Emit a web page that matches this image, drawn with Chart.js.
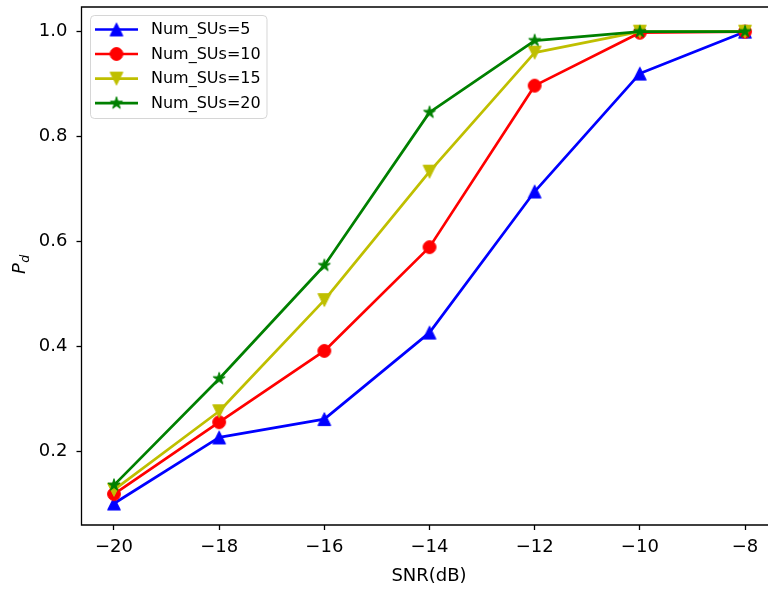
<!DOCTYPE html>
<html>
<head>
<meta charset="utf-8">
<script src="https://cdn.jsdelivr.net/npm/chart.js@4.4.1/dist/chart.umd.min.js"></script>
<style>
html,body{margin:0;padding:0;background:#fff;overflow:hidden;width:768px;height:590px}
#c{width:768px;height:590px;display:block}
</style>
</head>
<body>
<canvas id="c" width="768" height="590"></canvas>
<script>
// ---- data ----
const snr = [-20, -18, -16, -14, -12, -10, -8];
const pdSU5  = [0.100, 0.226, 0.261, 0.426, 0.695, 0.920, 1.000];
const pdSU10 = [0.118, 0.255, 0.391, 0.589, 0.897, 0.998, 1.000];
const pdSU15 = [0.126, 0.276, 0.488, 0.733, 0.960, 1.000, 1.000];
const pdSU20 = [0.135, 0.338, 0.554, 0.846, 0.983, 1.000, 1.000];
const seriesLabels = ['Num_SUs=5', 'Num_SUs=10', 'Num_SUs=15', 'Num_SUs=20'];
const xTicks = [-20, -18, -16, -14, -12, -10, -8];
const yTicks = [0.2, 0.4, 0.6, 0.8, 1.0];
const xLabel = 'SNR(dB)';

// ---- styling ----
const FONT = "'DejaVu Sans', 'Liberation Sans', sans-serif";
const colors = ['#0000ff', '#ff0000', '#bfbf00', '#008000'];
const shapes = ['tu', 'o', 'td', 'star'];

function marker(shape, color) {
  const S = 12.8, W = 20;
  const c = document.createElement('canvas');
  c.width = W; c.height = W;
  const g = c.getContext('2d');
  const m = W / 2, h = S / 2;
  g.fillStyle = color; g.strokeStyle = color; g.lineWidth = 1; g.lineJoin = 'miter';
  g.beginPath();
  if (shape === 'tu') { g.moveTo(m, m - h); g.lineTo(m - h, m + h); g.lineTo(m + h, m + h); g.closePath(); }
  else if (shape === 'td') { g.moveTo(m, m + h); g.lineTo(m - h, m - h); g.lineTo(m + h, m - h); g.closePath(); }
  else if (shape === 'o') { g.arc(m, m, h, 0, Math.PI * 2); }
  else {
    const ri = h * 0.381966;
    for (let i = 0; i < 10; i++) {
      const r = (i % 2) ? ri : h;
      const a = -Math.PI / 2 + i * Math.PI / 5;
      const px = m + r * Math.cos(a), py = m + r * Math.sin(a);
      if (i) g.lineTo(px, py); else g.moveTo(px, py);
    }
    g.closePath();
  }
  g.fill(); g.stroke();
  return c;
}

const seriesValues = [pdSU5, pdSU10, pdSU15, pdSU20];
const datasets = seriesValues.map((vals, i) => ({
  label: seriesLabels[i],
  data: snr.map((x, j) => ({ x: x, y: vals[j] })),
  borderColor: colors[i],
  backgroundColor: colors[i],
  borderWidth: 2.7,
  borderJoinStyle: 'round',
  borderCapStyle: 'butt',
  tension: 0,
  fill: false,
  pointStyle: marker(shapes[i], colors[i]),
  pointRadius: 6,
  pointHoverRadius: 6,
  order: seriesValues.length - 1 - i
}));

const fmtX = v => (v < 0 ? '\u2212' + Math.abs(v) : String(v));
const fmtY = v => v.toFixed(1);

// left, top and bottom spines (the right spine lies just outside the picture)
const spinesPlugin = {
  id: 'spines',
  afterDatasetsDraw(chart) {
    const a = chart.chartArea, ctx = chart.ctx;
    ctx.save();
    ctx.strokeStyle = '#000';
    ctx.lineWidth = 1.3;
    ctx.lineJoin = 'miter';
    ctx.beginPath();
    ctx.moveTo(a.right + 2, a.top);
    ctx.lineTo(a.left, a.top);
    ctx.lineTo(a.left, a.bottom);
    ctx.lineTo(a.right + 2, a.bottom);
    ctx.stroke();
    ctx.restore();
  }
};

const legendPlugin = {
  id: 'mplLegend',
  afterDatasetsDraw(chart) {
    const ctx = chart.ctx;
    const bx = 90.5, by = 15.5, bw = 176.5, bh = 103, r = 4;
    ctx.save();
    ctx.beginPath();
    ctx.moveTo(bx + r, by);
    ctx.arcTo(bx + bw, by, bx + bw, by + bh, r);
    ctx.arcTo(bx + bw, by + bh, bx, by + bh, r);
    ctx.arcTo(bx, by + bh, bx, by, r);
    ctx.arcTo(bx, by, bx + bw, by, r);
    ctx.closePath();
    ctx.fillStyle = 'rgba(255,255,255,0.8)';
    ctx.fill();
    ctx.strokeStyle = 'rgba(204,204,204,0.8)';
    ctx.lineWidth = 1;
    ctx.stroke();
    const rows = [29.5, 54, 78.6, 103.2];
    chart.data.datasets.forEach((ds, i) => {
      const y = rows[i];
      ctx.beginPath();
      ctx.moveTo(95, y); ctx.lineTo(138, y);
      ctx.strokeStyle = ds.borderColor; ctx.lineWidth = ds.borderWidth; ctx.lineCap = 'butt';
      ctx.stroke();
      const img = ds.pointStyle;
      ctx.drawImage(img, 116.5 - img.width / 2, y - img.height / 2);
      ctx.fillStyle = '#000';
      ctx.font = '16px ' + FONT;
      ctx.textBaseline = 'middle';
      ctx.textAlign = 'left';
      ctx.fillText(ds.label, 151, y + 0.5);
    });
    ctx.restore();
  }
};

// axis titles (x title centred on the full axes width, part of which lies off-picture)
const titlesPlugin = {
  id: 'axisTitles',
  afterDraw(chart) {
    const ctx = chart.ctx;
    ctx.save();
    ctx.fillStyle = '#000';
    ctx.font = '18px ' + FONT;
    ctx.textAlign = 'center';
    ctx.textBaseline = 'middle';
    ctx.fillText(xLabel, 429, 576.2);
    ctx.translate(25, 274);
    ctx.rotate(-Math.PI / 2);
    ctx.textBaseline = 'alphabetic';
    ctx.textAlign = 'left';
    ctx.font = 'italic 18px ' + FONT;
    ctx.fillText('P', 0, 0);
    const w = ctx.measureText('P').width;
    ctx.font = 'italic 12.6px ' + FONT;
    ctx.fillText('d', w + 0.5, 3.5);
    ctx.restore();
  }
};

function zeroPad(s) { s.paddingTop = 0; s.paddingBottom = 0; s.paddingLeft = 0; s.paddingRight = 0; }

Chart.defaults.font.family = FONT;
Chart.defaults.color = '#000';

new Chart(document.getElementById('c'), {
  type: 'line',
  data: { datasets: datasets },
  options: {
    responsive: false,
    maintainAspectRatio: false,
    animation: false,
    events: [],
    layout: { autoPadding: false, padding: { left: 0, top: 7, right: 0, bottom: 0 } },
    plugins: { legend: { display: false }, tooltip: { enabled: false } },
    scales: {
      x: {
        type: 'linear',
        min: -20.618, max: -7.563,
        afterBuildTicks: s => { s.ticks = xTicks.map(v => ({ value: v })); },
        afterFit: s => { s.height = 65; zeroPad(s); },
        ticks: { callback: v => fmtX(v), font: { size: 18 }, padding: 7, maxRotation: 0, autoSkip: false, color: '#000' },
        grid: { display: true, drawOnChartArea: false, drawTicks: true, tickLength: 5, tickWidth: 1.3, tickColor: '#000' },
        border: { display: false },
        title: { display: false }
      },
      y: {
        type: 'linear',
        min: 0.059, max: 1.047,
        afterBuildTicks: s => { s.ticks = yTicks.map(v => ({ value: v })); },
        afterFit: s => { s.width = 81.5; zeroPad(s); },
        ticks: { callback: v => fmtY(v), font: { size: 18 }, padding: 9, autoSkip: false, color: '#000' },
        grid: { display: true, drawOnChartArea: false, drawTicks: true, tickLength: 5, tickWidth: 1.3, tickColor: '#000' },
        border: { display: false },
        title: { display: false }
      }
    }
  },
  plugins: [spinesPlugin, legendPlugin, titlesPlugin]
});
</script>
</body>
</html>
